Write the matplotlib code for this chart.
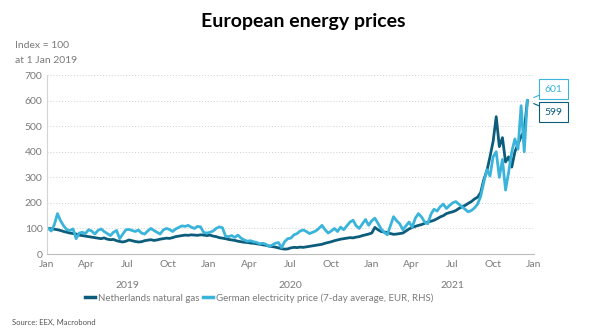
import pandas as pd
import numpy as np
import matplotlib.pyplot as plt

plt.rcParams['font.family'] = ['Lato', 'DejaVu Sans']

# weekly observations, first one on 4 Jan 2019
dates = pd.date_range("2019-01-04", periods=155, freq="7D")

gas = [
    # 2019
    100, 99, 97, 95, 92, 88, 85, 82, 80, 78, 74, 72, 70, 68, 66, 64, 62,
    60, 63, 58, 56, 57, 52, 49, 47, 50, 55, 52, 49, 47, 48, 52, 54, 56, 53,
    55, 58, 60, 62, 61, 64, 68, 70, 72, 74, 73, 75, 74, 73, 75, 74, 72,
    # 2020
    74, 70, 68, 64, 62, 60, 57, 55, 53, 50, 48, 46, 45, 43, 42, 40, 38,
    36, 34, 31, 29, 27, 24, 21, 19, 20, 24, 26, 25, 27, 26, 28, 30, 32, 34,
    36, 38, 42, 45, 48, 52, 55, 58, 60, 62, 64, 63, 66, 68, 72, 75, 78,
    # 2021
    82, 104, 95, 88, 86, 84, 80, 77, 78, 80, 82, 90, 98, 104, 108, 112, 115, 120,
    125, 128, 132, 138, 145, 150, 158, 162, 165, 170, 178, 185, 190,
    198, 205, 215, 222, 240, 290, 325, 380, 440, 537, 420, 455, 360,
    380, 340, 400, 430, 460, 480, 599,
]

power = [
    # 2019
    100, 90, 115, 158, 130, 110, 95, 92, 98, 60, 82, 85, 80, 95, 90, 78, 92,
    98, 88, 80, 72, 85, 92, 60, 78, 95, 96, 92, 88, 94, 82, 78, 90, 100, 92,
    85, 78, 94, 100, 96, 88, 98, 104, 110, 108, 112, 105, 100, 108, 106, 84, 82,
    # 2020
    85, 90, 100, 106, 103, 70, 68, 72, 65, 74, 62, 55, 50, 52, 48, 45, 40,
    42, 38, 30, 35, 42, 45, 25, 48, 60, 62, 75, 80, 90, 94, 88, 80, 85, 90,
    100, 112, 95, 82, 90, 100, 88, 105, 95, 110, 125, 132, 110, 100, 118, 135, 112,
    # 2021
    130, 140, 120, 98, 85, 75, 110, 146, 130, 118, 95, 110, 125, 105, 140, 158, 145, 125,
    118, 155, 175, 168, 185, 195, 178, 190, 200, 205, 195, 185, 175,
    165, 170, 180, 195, 225, 280, 330, 305, 380, 400, 300, 370, 250,
    320, 400, 450, 410, 580, 400, 601,
]

month_ticks = pd.date_range("2019-01-01", "2022-01-01", freq="3MS")
years = ["2019", "2020", "2021"]

dark = "#0c5c7c"
light = "#3ab4da"
grey = "#7a7a7a"

fig = plt.figure(figsize=(6, 3.31), dpi=100)
ax = fig.add_axes([0.078, 0.2326, 0.812, 0.5408])

ax.plot(dates, gas, color=dark, lw=2.0, label="Netherlands natural gas")
ax.plot(dates, power, color=light, lw=2.0,
        label="German electricity price (7-day average, EUR, RHS)")

ax.set_xlim(pd.Timestamp("2019-01-01"), pd.Timestamp("2022-01-01"))
ax.set_ylim(0, 700)
ax.set_yticks(range(0, 701, 100))
ax.set_xticks(month_ticks)
ax.set_xticklabels([d.strftime("%b") for d in month_ticks])
ax.tick_params(axis="both", length=0, labelsize=7.5, labelcolor=grey, pad=3)
ax.tick_params(axis="x", pad=4)

ax.grid(axis="y", color="#cfcfcf", ls=(0, (1, 2)), lw=0.7)
for s in ["top", "right"]:
    ax.spines[s].set_visible(False)
ax.spines["left"].set_color("#d4d4d4")
ax.spines["bottom"].set_color("#bdbdbd")
ax.spines["left"].set_linewidth(0.8)
ax.spines["bottom"].set_linewidth(0.8)

for y in years:
    ax.text(pd.Timestamp(f"{y}-07-01"), -0.15, y, transform=ax.get_xaxis_transform(),
            ha="center", va="top", fontsize=7.5, color=grey)

# end-value call-outs
x_end = dates[-1]
for val, txt, col, ypos in [(power[-1], "601", light, 645), (gas[-1], "599", dark, 555)]:
    ax.annotate(txt, xy=(x_end, val), xytext=(pd.Timestamp("2022-01-25"), ypos),
                fontsize=7.5, color=col, ha="left", va="center", annotation_clip=False,
                bbox=dict(boxstyle="square,pad=0.5", fc="white", ec=col, lw=0.8),
                arrowprops=dict(arrowstyle="-", color=col, lw=0.8,
                                shrinkA=0, shrinkB=5))

fig.text(0.505, 0.935, "European energy prices", ha="center", va="center",
         fontsize=14, fontweight="bold", color="black")
fig.text(0.025, 0.862, "Index = 100", ha="left", va="center", fontsize=7.5, color=grey)
fig.text(0.025, 0.818, "at 1 Jan 2019", ha="left", va="center", fontsize=7.5, color=grey)

leg = fig.legend(loc="center", bbox_to_anchor=(0.432, 0.1), ncol=2, frameon=False,
                 fontsize=7, labelcolor=grey, handlelength=1.0, handletextpad=0.3,
                 columnspacing=0.4)
for h in leg.get_lines():
    h.set_linewidth(2.5)

fig.text(0.02, 0.027, "Source: EEX, Macrobond", ha="left", va="center",
         fontsize=5.5, color="#555555")

fig.savefig("out.png", dpi=100)
